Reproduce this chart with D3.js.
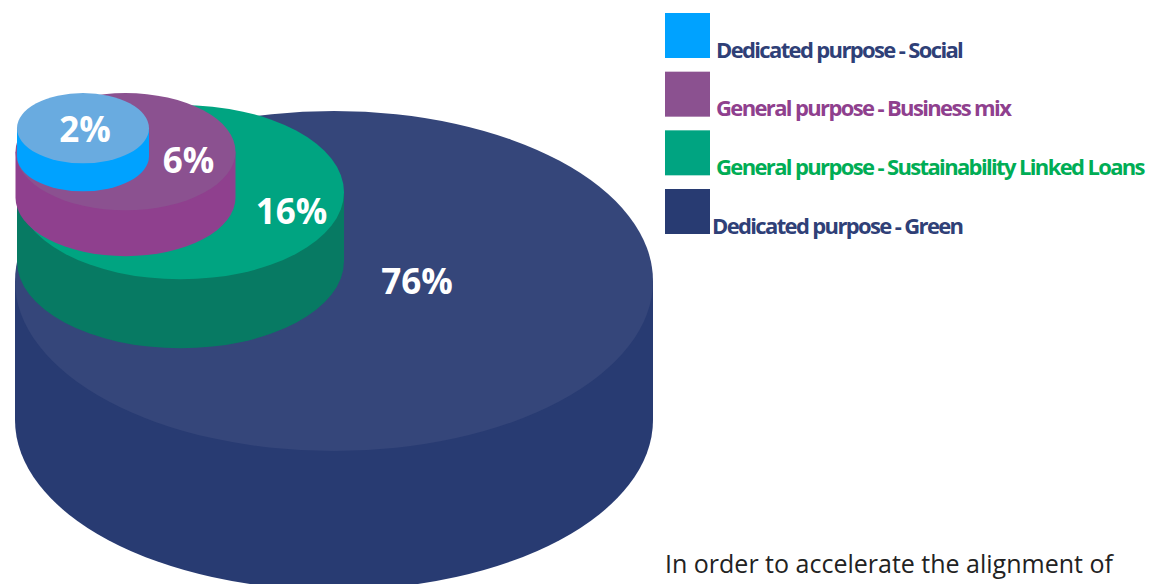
<!DOCTYPE html>
<html>
<head>
<meta charset="utf-8">
<script src="https://cdn.jsdelivr.net/npm/d3@7"></script>
<style>
  html, body { margin: 0; padding: 0; background: #fff; overflow: hidden; }
  text { font-family: "Open Sans", sans-serif; }
</style>
</head>
<body>
<div id="chart"></div>
<script>
const width = 1150, height = 584;

// drawn back to front
const categories = ["Dedicated purpose - Green", "General purpose - Sustainability Linked Loans", "General purpose - Business mix", "Dedicated purpose - Social"];
const shares = [76, 16, 6, 2];

const topColor = d3.scaleOrdinal().domain(categories).range(["#35467a", "#00a481", "#8b5190", "#69abe0"]);
const sideColor = d3.scaleOrdinal().domain(categories).range(["#283b72", "#077a63", "#8f408e", "#00a2ff"]);
const swatchColor = d3.scaleOrdinal().domain(categories).range(["#283b72", "#00a481", "#8b5190", "#00a2ff"]);
const textColor = d3.scaleOrdinal().domain(categories).range(["#2f4077", "#00ad55", "#8f408e", "#2f4077"]);

// size of a disc by its share, not quite sqrt in the original so piecewise
const rx = d3.scaleLinear().domain([2, 6, 16, 76]).range([66, 110, 163.5, 319]);
const squash = 0.533;
const depth = d3.scaleLinear().domain([2, 6, 16, 76]).range([28, 46, 69, 139]);

// where each disc sits: left edge and top edge of its top ellipse
const placeLeft = d3.scaleOrdinal().domain(shares).range([15, 17, 15.5, 17]);
const placeTop = d3.scaleOrdinal().domain(shares).range([111, 105, 93, 93]);
// label offset from top ellipse centre
const labelX = d3.scaleOrdinal().domain(shares).range([83, 111, 63, 2]);
const labelY = d3.scaleOrdinal().domain(shares).range([4, 22, 12, 4]);

const svg = d3.select("#chart").append("svg")
  .attr("width", width)
  .attr("height", height)
  .style("display", "block");

const rows = categories.map((c, i) => {
  const v = shares[i], r = rx(v), ry = r * squash;
  return {
    name: c, value: v, r: r, ry: ry, h: depth(v),
    cx: placeLeft(v) + r,
    cy: placeTop(v) + ry
  };
});

const discs = svg.selectAll("g.disc")
  .data(rows)
  .enter().append("g")
  .attr("class", "disc");

discs.append("path")
  .attr("fill", d => sideColor(d.name))
  .attr("d", d => {
    const l = d.cx - d.r, rr = d.cx + d.r;
    return `M${l},${d.cy}L${l},${d.cy + d.h}A${d.r},${d.ry} 0 0 0 ${rr},${d.cy + d.h}L${rr},${d.cy}Z`;
  });

discs.append("ellipse")
  .attr("cx", d => d.cx)
  .attr("cy", d => d.cy)
  .attr("rx", d => d.r)
  .attr("ry", d => d.ry)
  .attr("fill", d => topColor(d.name));

discs.append("text")
  .attr("x", d => d.cx + labelX(d.value))
  .attr("y", d => d.cy + labelY(d.value))
  .attr("text-anchor", "middle")
  .attr("dominant-baseline", "middle")
  .attr("fill", "#fff")
  .attr("font-weight", 700)
  .attr("font-size", 35)
  .text(d => d.value + "%");

// legend, top to bottom is reverse of draw order
const legendRows = [...categories].reverse();
const legendY = d3.scalePoint().domain(legendRows).range([13, 189]);
const legendTextX = d3.scaleOrdinal().domain(legendRows).range([716, 716, 716, 712]);

const legend = svg.selectAll("g.legend")
  .data(legendRows)
  .enter().append("g")
  .attr("class", "legend");

legend.append("rect")
  .attr("x", 665)
  .attr("y", d => legendY(d))
  .attr("width", 45)
  .attr("height", 45)
  .attr("fill", d => swatchColor(d));

legend.append("text")
  .attr("x", d => legendTextX(d))
  .attr("y", d => legendY(d) + 44.5)
  .attr("fill", d => textColor(d))
  .attr("font-weight", 700)
  .attr("font-size", 22)
  .attr("letter-spacing", "-1.64px")
  .text(d => d);

svg.append("text")
  .attr("x", 665)
  .attr("y", 573)
  .attr("fill", "#222")
  .attr("font-size", 25)
  .text("In order to accelerate the alignment of");
</script>
</body>
</html>
